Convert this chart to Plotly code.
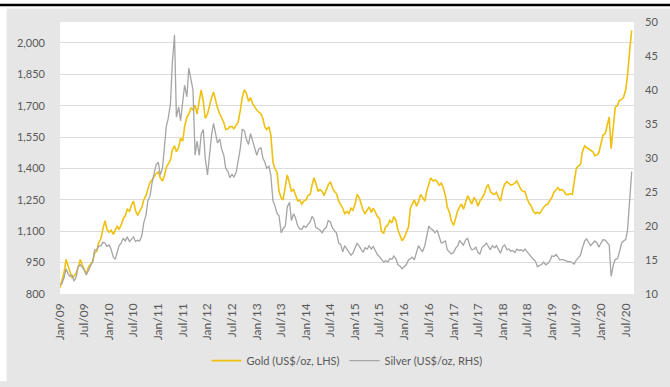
import pandas as pd
import plotly.graph_objects as go

# Semi-monthly observations (1st and 15th of each month), Jan 2009 - Aug 2020
gold = [
    # 2009
    830, 860, 905, 965, 940, 915, 875, 885, 900, 925, 965, 940,
    915, 895, 930, 940, 955, 995, 1005, 1045, 1065, 1110, 1150, 1110,
    # 2010
    1095, 1105, 1085, 1105, 1123, 1110, 1130, 1160, 1175, 1205, 1195, 1225,
    1244, 1200, 1175, 1195, 1215, 1250, 1270, 1300, 1335, 1345, 1360, 1375,
    # 2011
    1383, 1355, 1340, 1365, 1405, 1420, 1440, 1490, 1508, 1480, 1500, 1545,
    1530, 1600, 1646, 1660, 1690, 1679, 1702, 1660, 1720, 1776, 1720, 1640,
    # 2012
    1660, 1700, 1740, 1765, 1720, 1690, 1660, 1640, 1620, 1586, 1590, 1600,
    1600, 1590, 1610, 1620, 1680, 1740, 1776, 1760, 1720, 1739, 1710, 1695,
    # 2013
    1679, 1670, 1660, 1640, 1600, 1586, 1600, 1560, 1429, 1400, 1380, 1290,
    1260, 1250, 1310, 1369, 1330, 1290, 1300, 1270, 1244, 1250, 1230, 1244,
    # 2014
    1250, 1270, 1276, 1320, 1355, 1330, 1290, 1300, 1290, 1270, 1300, 1320,
    1337, 1310, 1290, 1280, 1244, 1230, 1210, 1184, 1195, 1184, 1210, 1200,
    # 2015
    1230, 1276, 1260, 1230, 1200, 1184, 1200, 1216, 1190, 1210, 1190, 1170,
    1160, 1100, 1091, 1120, 1130, 1152, 1140, 1170, 1150, 1105, 1080, 1054,
    # 2016
    1070, 1091, 1120, 1210, 1230, 1250, 1220, 1240, 1276, 1260, 1244, 1290,
    1330, 1355, 1340, 1345, 1337, 1320, 1330, 1309, 1270, 1216, 1190, 1150,
    # 2017
    1128, 1160, 1200, 1216, 1230, 1205, 1244, 1270, 1250, 1230, 1260, 1250,
    1220, 1244, 1260, 1276, 1310, 1323, 1290, 1280, 1276, 1285, 1260, 1244,
    # 2018
    1300, 1325, 1337, 1330, 1320, 1323, 1330, 1340, 1320, 1300, 1290, 1290,
    1255, 1235, 1220, 1195, 1184, 1190, 1184, 1200, 1215, 1225, 1230, 1245,
    # 2019
    1262, 1285, 1300, 1309, 1295, 1300, 1290, 1276, 1275, 1280, 1276, 1340,
    1401, 1410, 1420, 1480, 1508, 1500, 1494, 1490, 1480, 1461, 1465, 1475,
    # 2020
    1520, 1560, 1568, 1600, 1646, 1494, 1620, 1693, 1700, 1725, 1730, 1739,
    1775, 1845, 1970, 2060,
]

silver = [
    # 2009
    11.4, 11.5, 12.5, 13.7, 13.0, 12.6, 12.8, 11.9, 12.5, 14.0, 14.3, 14.0,
    13.5, 12.8, 13.5, 14.2, 14.8, 16.5, 16.5, 17.0, 17.1, 17.6, 17.5, 17.0,
    # 2010
    17.2, 16.6, 15.4, 15.1, 16.2, 17.1, 17.5, 18.2, 17.8, 18.4, 17.7, 18.0,
    18.4, 17.7, 17.9, 17.8, 18.6, 20.5, 21.6, 23.7, 24.5, 26.3, 27.9, 29.0,
    # 2011
    29.4, 27.5, 28.5, 31.5, 34.6, 35.8, 38.0, 44.0, 48.1, 36.0, 37.5, 35.5,
    38.5, 40.7, 39.0, 43.2, 41.5, 40.0, 30.4, 32.5, 30.4, 33.5, 34.2, 30.0,
    # 2012
    27.5, 30.5, 33.5, 35.1, 33.5, 32.2, 32.8, 31.3, 30.4, 28.5, 28.0, 27.1,
    27.6, 27.2, 27.9, 29.5, 31.5, 34.2, 34.0, 32.8, 32.0, 33.6, 32.5, 31.5,
    # 2013
    30.4, 31.3, 31.5, 30.0, 29.4, 28.5, 28.8, 27.5, 23.7, 23.0, 21.8, 21.5,
    19.0, 19.6, 20.0, 22.8, 23.5, 20.8, 21.8, 21.2, 20.0, 19.6, 19.5, 20.0,
    # 2014
    19.8, 20.2, 20.6, 21.4, 21.0, 19.8, 19.6, 19.4, 19.0, 19.5, 19.8, 20.8,
    20.6, 19.8, 19.3, 19.0, 17.5, 17.3, 16.2, 17.1, 16.6, 16.2, 15.7, 16.0,
    # 2015
    16.8, 17.5, 17.0, 16.5, 16.1, 16.8, 16.6, 17.1, 16.6, 17.0, 16.3, 15.8,
    15.5, 15.1, 14.7, 14.9, 14.7, 15.2, 15.1, 15.6, 15.1, 14.3, 14.1, 13.7,
    # 2016
    14.0, 14.3, 15.0, 15.2, 15.4, 15.0, 16.1, 17.1, 16.6, 16.2, 17.1, 18.5,
    20.0, 19.6, 19.4, 19.0, 19.4, 18.5, 17.5, 17.6, 17.8, 16.5, 16.1, 15.9,
    # 2017
    16.1, 16.7, 17.1, 17.9, 17.5, 17.2, 18.0, 18.2, 17.1, 16.5, 16.6, 16.9,
    16.1, 15.9, 16.9, 17.1, 17.5, 17.0, 16.5, 17.1, 16.8, 17.1, 16.6, 16.0,
    # 2018
    17.0, 17.2, 16.5, 16.6, 16.3, 16.4, 16.1, 16.6, 16.4, 16.5, 16.3, 16.6,
    16.2, 15.8, 15.4, 15.1, 14.8, 14.0, 14.2, 14.3, 14.7, 14.3, 14.5, 14.8,
    # 2019
    15.6, 15.5, 15.8, 15.3, 15.0, 15.1, 15.0, 14.9, 14.7, 14.8, 14.6, 14.4,
    15.0, 15.3, 15.7, 16.8, 17.8, 18.1, 17.6, 17.1, 17.5, 17.8, 17.5, 16.9,
    # 2020
    17.5, 18.0, 17.9, 17.6, 17.2, 12.6, 14.3, 15.1, 15.2, 16.1, 17.5, 17.8,
    18.0, 19.4, 24.0, 28.0,
]

dates = pd.date_range("2009-01-01", periods=len(gold), freq="SMS")

gold_name = "Gold (US$/oz, LHS)"
silver_name = "Silver (US$/oz, RHS)"

left_ticks = [800, 950, 1100, 1250, 1400, 1550, 1700, 1850, 2000]
right_ticks = [10, 15, 20, 25, 30, 35, 40, 45, 50]

GOLD_C = "#EFC010"
SILVER_C = "#A5A5A5"
TXT = "#595959"
FONT = "Lato, Open Sans, sans-serif"

fig = go.Figure()
fig.add_trace(go.Scatter(x=dates, y=gold, name=gold_name, mode="lines",
                         line=dict(color=GOLD_C, width=1.6), yaxis="y"))
fig.add_trace(go.Scatter(x=dates, y=silver, name=silver_name, mode="lines",
                         line=dict(color=SILVER_C, width=1.3), yaxis="y2"))

fig.update_layout(
    width=670, height=387,
    margin=dict(l=60, r=30, t=22, b=84),
    paper_bgcolor="#e6e6e6",
    plot_bgcolor="#ffffff",
    font=dict(family=FONT, size=11, color=TXT),
    showlegend=True,
    legend=dict(orientation="h", x=0.5, xanchor="center", y=-0.245, yanchor="middle",
                bgcolor="rgba(0,0,0,0)", font=dict(size=11, color=TXT),
                traceorder="normal"),
    xaxis=dict(type="date", range=["2009-01-01", "2020-09-01"],
               tick0="2009-01-01", dtick="M6", tickformat="%b/%y",
               tickangle=-90, showgrid=False, zeroline=False, showline=False,
               ticks="", ticklabelstandoff=6, tickfont=dict(size=12, color=TXT)),
    yaxis=dict(range=[800, 2100], tickvals=left_ticks, tickformat=",",
               showgrid=True, gridcolor="#dcdcdc", gridwidth=1, zeroline=False,
               showline=False, ticks="", ticklabelstandoff=14,
               tickfont=dict(size=11, color=TXT)),
    yaxis2=dict(range=[10, 50], tickvals=right_ticks, overlaying="y", side="right",
                showgrid=False, zeroline=False, showline=False, ticks="",
                ticklabelstandoff=10, tickfont=dict(size=11, color=TXT)),
    shapes=[
        dict(type="rect", xref="paper", yref="paper", x0=-0.12, x1=-0.0931,
             y0=-0.32, y1=1.1, fillcolor="white", line=dict(width=0), layer="above"),
        dict(type="rect", xref="paper", yref="paper", x0=-0.12, x1=1.07,
             y0=1.0498, y1=1.1, fillcolor="white", line=dict(width=0), layer="above"),
        dict(type="line", xref="paper", yref="paper", x0=-0.12, x1=1.07,
             y0=1.0623, y1=1.0623, line=dict(color="black", width=2.5), layer="above"),
    ],
)

fig.write_html("out.html")
